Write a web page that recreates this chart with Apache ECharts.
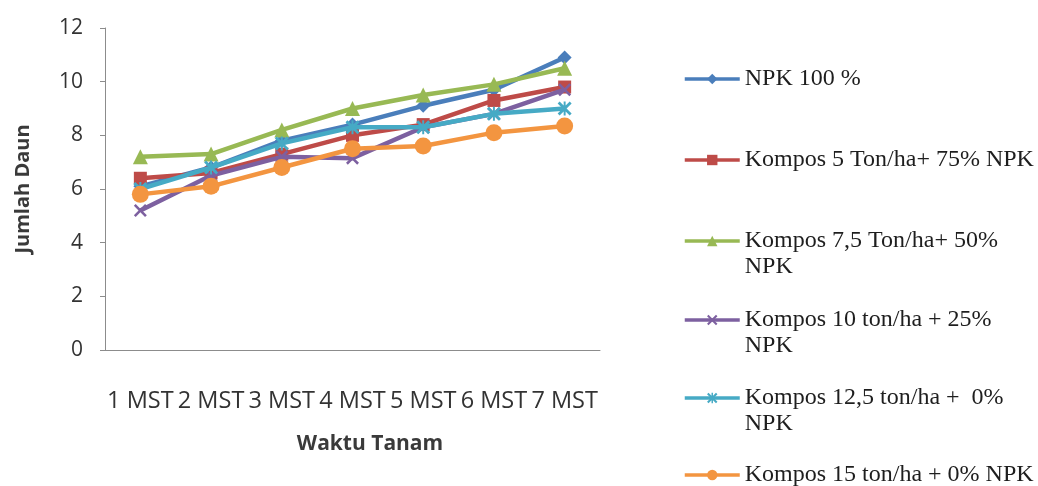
<!DOCTYPE html>
<html>
<head>
<meta charset="utf-8">
<title>Jumlah Daun</title>
<script src="https://cdn.jsdelivr.net/npm/echarts@6/dist/echarts.min.js"></script>
<style>
  html, body { margin: 0; padding: 0; background: #ffffff; }
  #chart { width: 1038px; height: 486px; }
</style>
</head>
<body>
<div id="chart"></div>
<script>
// Weeks after planting
const categories = ['1 MST', '2 MST', '3 MST', '4 MST', '5 MST', '6 MST', '7 MST'];

// Leaf counts per treatment
const npk100      = [6.1, 6.8, 7.8, 8.4, 9.1, 9.7, 10.9];
const kompos5     = [6.4, 6.6, 7.3, 8.0, 8.4, 9.3, 9.8];
const kompos7_5   = [7.2, 7.3, 8.2, 9.0, 9.5, 9.9, 10.5];
const kompos10    = [5.2, 6.5, 7.2, 7.15, 8.3, 8.8, 9.7];
const kompos12_5  = [6.0, 6.8, 7.7, 8.3, 8.3, 8.8, 9.0];
const kompos15    = [5.8, 6.1, 6.8, 7.5, 7.6, 8.1, 8.35];

const seriesNames = [
  'NPK 100 %',
  'Kompos 5 Ton/ha+ 75% NPK',
  'Kompos 7,5 Ton/ha+ 50% NPK',
  'Kompos 10 ton/ha + 25% NPK',
  'Kompos 12,5 ton/ha +  0% NPK',
  'Kompos 15 ton/ha + 0% NPK'
];
// Legend text, wrapped the way it is printed
const legendLabels = [
  'NPK 100 %',
  'Kompos 5 Ton/ha+ 75% NPK',
  'Kompos 7,5 Ton/ha+ 50%\nNPK',
  'Kompos 10 ton/ha + 25%\nNPK',
  'Kompos 12,5 ton/ha +  0%\nNPK',
  'Kompos 15 ton/ha + 0% NPK'
];
const yTicks = { min: 0, max: 12, interval: 2 };

const values = [npk100, kompos5, kompos7_5, kompos10, kompos12_5, kompos15];
const colors = ['#4A7EBB', '#BE4B48', '#98B954', '#7D60A0', '#46AAC5', '#F39540'];

// Marker shapes: diamond, square, triangle, cross, asterisk, circle
const crossPath = 'path://M0,1.4L1.4,0L5,3.6L8.6,0L10,1.4L6.4,5L10,8.6L8.6,10L5,6.4L1.4,10L0,8.6L3.6,5Z';
const starPath = 'path://M0,1.4L1.4,0L5,3.6L8.6,0L10,1.4L6.4,5L10,8.6L8.6,10L5,6.4L1.4,10L0,8.6L3.6,5Z' +
                 'M4.3,0L5.7,0L5.7,10L4.3,10Z';
const symbols = ['diamond', 'rect', 'triangle', crossPath, starPath, 'circle'];
const symbolSizes = [14, 13, 15, 13, 14, 17];

// Vertical centre of each legend row (first line)
const legendRows = [79, 160, 241, 320, 398, 475];
const lineH = 26;

const series = seriesNames.map((name, i) => ({
  name: name,
  type: 'line',
  data: values[i],
  symbol: symbols[i],
  symbolSize: symbolSizes[i],
  showAllSymbol: true,
  lineStyle: { color: colors[i], width: 4.5 },
  itemStyle: { color: colors[i] },
  emphasis: { disabled: true },
  z: 2 + i
}));

const legends = seriesNames.map((name, i) => {
  const twoLines = legendLabels[i].indexOf('\n') >= 0;
  // A blank first line keeps the wrapped label's first line level with its icon
  const text = twoLines ? ' \n' + legendLabels[i] : legendLabels[i];
  return {
    data: [name],
    left: 683,
    top: legendRows[i] - (twoLines ? lineH * 1.5 : lineH / 2),
    orient: 'vertical',
    padding: 0,
    itemWidth: 55,
    itemHeight: 13,
    selectedMode: false,
    formatter: () => text,
    lineStyle: { width: 3.5 },
    textStyle: {
      fontFamily: 'Liberation Serif',
      fontSize: 24,
      lineHeight: lineH,
      color: '#1e1e1e'
    }
  };
});

const chart = echarts.init(document.getElementById('chart'), null, { renderer: 'canvas' });
chart.setOption({
  animation: false,
  backgroundColor: '#ffffff',
  grid: { left: 105, right: 438, top: 28, bottom: 136, containLabel: false },
  legend: legends,
  xAxis: {
    type: 'category',
    data: categories,
    boundaryGap: true,
    name: 'Waktu Tanam',
    nameLocation: 'middle',
    nameGap: 84,
    nameTextStyle: {
      fontFamily: 'Open Sans', fontSize: 21, fontWeight: 'bold', color: '#3a3a3a',
      padding: [0, 0, 0, 35]
    },
    axisLine: { show: true, lineStyle: { color: '#8c8c8c', width: 1 } },
    axisTick: { show: false },
    axisLabel: {
      interval: 0, margin: 39,
      fontFamily: 'Open Sans', fontSize: 23.5, color: '#333333'
    },
    splitLine: { show: false }
  },
  yAxis: {
    type: 'value',
    min: yTicks.min,
    max: yTicks.max,
    interval: yTicks.interval,
    name: 'Jumlah Daun',
    nameLocation: 'middle',
    nameGap: 72,
    nameTextStyle: { fontFamily: 'Open Sans', fontSize: 20, fontWeight: 'bold', color: '#3a3a3a' },
    axisLine: { show: true, lineStyle: { color: '#8c8c8c', width: 1 } },
    axisTick: { show: true, length: 5, lineStyle: { color: '#8c8c8c' } },
    axisLabel: { margin: 22, fontFamily: 'Open Sans', fontSize: 21, color: '#333333' },
    splitLine: { show: false }
  },
  series: series
});
</script>
</body>
</html>
